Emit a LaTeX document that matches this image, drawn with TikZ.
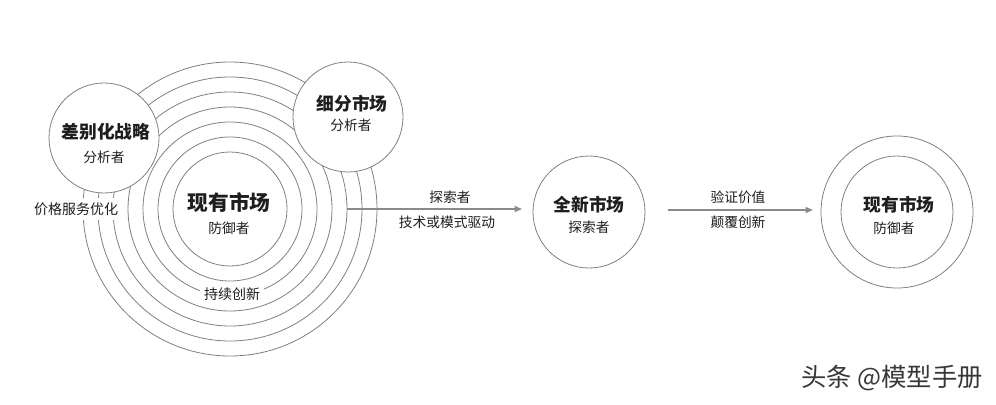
\documentclass[tikz,border=0pt]{standalone}
\usepackage{fontspec}
\setmainfont{Noto Sans CJK SC}
\usetikzlibrary{arrows.meta}
\definecolor{ringc}{HTML}{808080}
\definecolor{arrc}{HTML}{8A8A8A}
\definecolor{txt}{HTML}{1E1E1E}
\tikzset{
  ring/.style={circle, draw=ringc, line width=0.6pt, inner sep=0pt},
  wring/.style={ring, fill=white},
  ttl/.style={font=\bfseries\fontsize{13.3pt}{15pt}\selectfont, text=txt, inner sep=0pt},
  bigttl/.style={font=\bfseries\fontsize{15.5pt}{17pt}\selectfont, text=txt, inner sep=0pt},
  sub/.style={font=\fontsize{10.3pt}{12pt}\selectfont, text=txt, inner sep=0pt},
  lbl/.style={font=\fontsize{10.5pt}{12pt}\selectfont, text=txt, fill=white, inner xsep=3pt, inner ysep=3pt},
  flow/.style={draw=arrc, line width=0.9pt, -{Triangle[length=5.5pt,width=4.5pt]}}
}
\begin{document}
\begin{tikzpicture}[x=0.75pt,y=-0.75pt]
\path[use as bounding box, fill=white] (0,0) rectangle (996,404);
% concentric rings of the existing market
\coordinate (c) at (230,209);
\node[ring, minimum size=85.5pt] (r1) at (c) {};
\node[ring, minimum size=108pt] (r2) at (c) {};
\node[ring, minimum size=130.5pt] (r3) at (c) {};
\node[ring, minimum size=153pt] (r4) at (c) {};
\node[ring, minimum size=175.5pt] (r5) at (c) {};
\node[ring, minimum size=198pt] (r6) at (c) {};
\node[ring, minimum size=220.5pt] (r7) at (c) {};
% overlapping circles
\node[wring, minimum size=82.5pt] (diff) at (104,138) {};
\node[wring, minimum size=82.5pt] (seg) at (348,117) {};
% texts of the left group
\node[bigttl] (t1) at (229,203) {现有市场};
\node[sub] (t1s) at (229,228) {防御者};
\node[ttl] (t2) at (106,132) {差别化战略};
\node[sub] (t2s) at (104,157) {分析者};
\node[ttl] (t3) at (352,104) {细分市场};
\node[sub] (t3s) at (351,125) {分析者};
\node[lbl] (l1) at (76,209) {价格服务优化};
\node[lbl, inner ysep=2pt] (l2) at (232,294) {持续创新};
% new market
\node[ring, minimum size=84pt] (nm) at (589,212) {};
\node[ttl] (t4) at (589,205) {全新市场};
\node[sub] (t4s) at (589,227) {探索者};
% right existing market
\node[ring, minimum size=114pt] (em) at (897,212) {};
\node[ring, minimum size=84pt] (emi) at (897,212) {};
\node[ttl] (t5) at (899,205) {现有市场};
\node[sub] (t5s) at (894,228) {防御者};
% arrows
\coordinate (a1s) at (r5.east);
\coordinate (a1e) at (522,209);
\draw[flow] (a1s) -- (a1e);
\node[sub] (a1t) at (450,197) {探索者};
\node[sub] (a1b) at (447,222) {技术或模式驱动};
\coordinate (a2s) at (668,210);
\coordinate (a2e) at (813,210);
\draw[flow] (a2s) -- (a2e);
\node[sub] (a2t) at (738,197) {验证价值};
\node[sub] (a2b) at (738,222) {颠覆创新};
% watermark
\node[font=\fontsize{19pt}{21pt}\selectfont, text=black!78, inner sep=0pt] (wm) at (892,378) {头条 @模型手册};
\end{tikzpicture}
\end{document}
